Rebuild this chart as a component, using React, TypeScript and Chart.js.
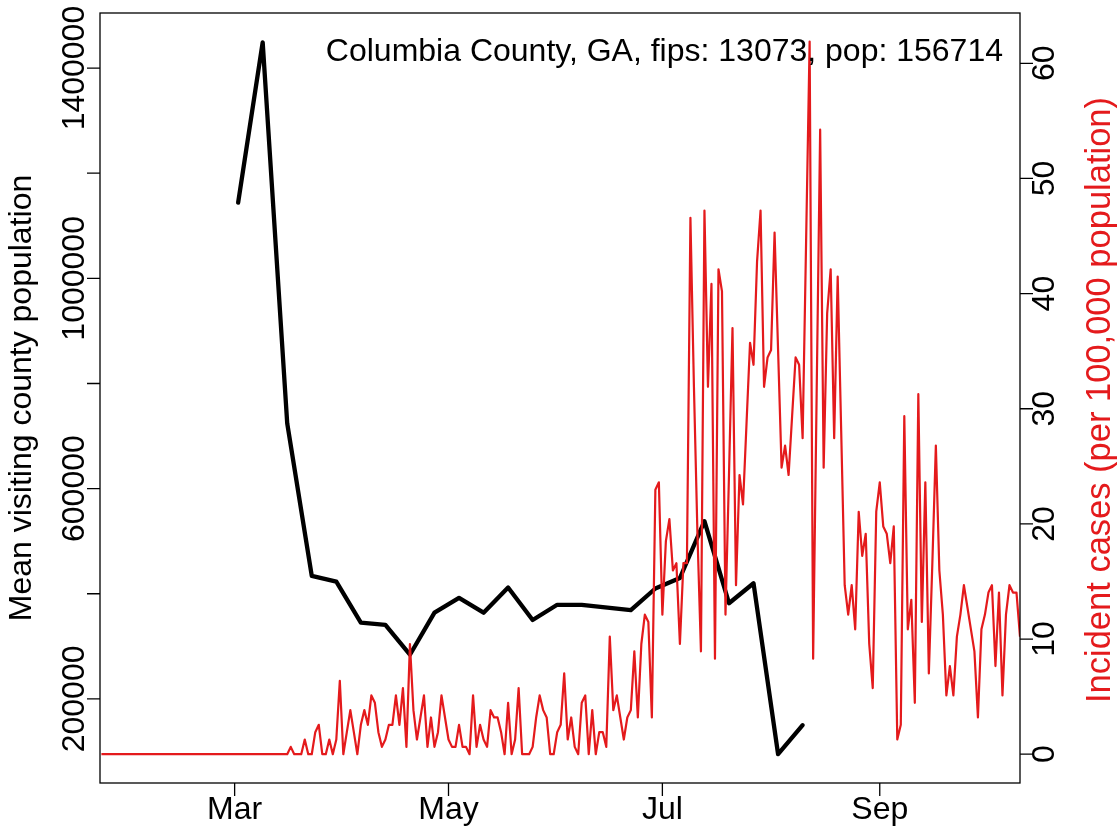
import React, { useEffect, useRef } from 'react';
import { Chart, registerables } from 'chart.js';

Chart.register(...registerables);

// ---- data ----
const POPULATION = 156714;
const FIRST_DAY = 22; // day index of the first daily value (Jan 1 = 0) -> Jan 22
// daily incident cases (raw counts), one per day from Jan 22
const dailyCases = [
  0, 0, 0, 0, 0, 0, 0, 0, 0, 0,
  0, 0, 0, 0, 0, 0, 0, 0, 0, 0,
  0, 0, 0, 0, 0, 0, 0, 0, 0, 0,
  0, 0, 0, 0, 0, 0, 0, 0, 0, 0,
  0, 0, 0, 0, 0, 0, 0, 0, 0, 0,
  0, 0, 0, 0,
  1, 0, 0, 0, 2, 0, 0, 3, 4, 0,
  0, 2, 0, 2, 10, 0, 3, 6, 3, 0,
  4, 6, 4, 8, 7, 3, 1, 2, 4, 4,
  8, 4, 9, 1, 15, 6, 2, 5, 8, 1,
  5, 1, 3, 8, 5, 2, 1, 1, 4, 1,
  1, 0, 8, 1, 4, 2, 1, 6, 5, 5,
  3, 0, 7, 0, 2, 9, 0, 0, 0, 1,
  5, 8, 6, 5, 0, 0, 3, 4, 11, 2,
  5, 1, 0, 7, 8, 0, 6, 0, 3, 3,
  1, 16, 6, 8, 5, 2, 5, 6, 14, 5,
  15, 19, 18, 5, 36, 37, 19, 29, 32, 25,
  26, 15, 26, 26, 73, 50, 30, 14, 74, 50,
  64, 13, 66, 63, 19, 38, 58, 23, 38, 34,
  45, 56, 53, 67, 74, 50, 54, 55, 71, 55,
  39, 42, 38, 46, 54, 53, 43, 70, 97, 13,
  49, 85, 39, 60, 66, 43, 65, 44, 23, 19,
  23, 17, 33, 27, 30, 15, 9, 33, 37, 31,
  30, 26, 31, 2, 4, 46, 17, 21, 7, 49,
  18, 37, 11, 26, 42, 25, 19, 8, 12, 8,
  16, 19, 23, 20, 17, 14, 5, 17, 19, 22,
  23, 12, 22, 8, 19, 23, 22, 22, 16,
];

// weekly mean visiting county population
const weekDays = [61, 68, 75, 82, 89, 96, 103, 110, 117, 124, 131, 138, 145, 152, 159, 173, 180, 187, 194, 201, 208, 215, 222];
const visitingPop = [
  1144000, 1449000, 724000, 434000, 423000, 345000, 341000, 284000, 364000, 392000,
  364000, 412000, 350000, 379000, 379000, 369000, 410000, 430000, 538000, 382000,
  420000, 95000, 150000,
];

// axes
const monthTickDays = [60, 121, 182, 244];
const monthTickLabels = ['Mar', 'May', 'Jul', 'Sep'];
const leftTickValues = [200000, 400000, 600000, 800000, 1000000, 1200000, 1400000];
const leftTickLabels = ['200000', '', '600000', '', '1000000', '', '1400000'];
const rightTickValues = [0, 10, 20, 30, 40, 50, 60];
const rightTickLabels = ['0', '10', '20', '30', '40', '50', '60'];

const TITLE = 'Columbia County, GA, fips: 13073, pop: 156714';
const LEFT_TITLE = 'Mean visiting county population';
const RIGHT_TITLE = 'Incident cases (per 100,000 population)';

const RED = '#E41A1C';
const FONT = '"Liberation Sans", Arial, Helvetica, sans-serif';
const FS = 32;
const FS_RIGHT_TITLE = 34.5;

const rStyleAxes = {
  id: 'rStyleAxes',
  afterDraw(chart: any) {
    const { ctx, chartArea: a, scales } = chart;
    const sx = scales.x;
    const sl = scales.y;
    const sr = scales.y2;
    const TICK = 13;
    ctx.save();
    ctx.strokeStyle = '#000';
    ctx.lineWidth = 1.3;
    ctx.strokeRect(a.left, a.top, a.right - a.left, a.bottom - a.top);

    ctx.beginPath();
    monthTickDays.forEach((d) => {
      const p = sx.getPixelForValue(d);
      ctx.moveTo(p, a.bottom);
      ctx.lineTo(p, a.bottom + TICK);
    });
    leftTickValues.forEach((v) => {
      const p = sl.getPixelForValue(v);
      ctx.moveTo(a.left, p);
      ctx.lineTo(a.left - TICK, p);
    });
    rightTickValues.forEach((v) => {
      const p = sr.getPixelForValue(v);
      ctx.moveTo(a.right, p);
      ctx.lineTo(a.right + TICK, p);
    });
    ctx.stroke();

    ctx.font = `${FS}px ${FONT}`;
    ctx.fillStyle = '#000';
    ctx.textAlign = 'center';
    ctx.textBaseline = 'middle';
    monthTickDays.forEach((d, i) => {
      ctx.fillText(monthTickLabels[i], sx.getPixelForValue(d), a.bottom + 27);
    });

    const rot = (text: string, x: number, y: number, color: string, size: number) => {
      ctx.save();
      ctx.translate(x, y);
      ctx.rotate(-Math.PI / 2);
      ctx.font = `${size}px ${FONT}`;
      ctx.fillStyle = color;
      ctx.fillText(text, 0, 0);
      ctx.restore();
    };
    leftTickValues.forEach((v, i) => {
      if (leftTickLabels[i]) rot(leftTickLabels[i], a.left - 25, sl.getPixelForValue(v), '#000', FS);
    });
    rightTickValues.forEach((v, i) => {
      rot(rightTickLabels[i], a.right + 25, sr.getPixelForValue(v), '#000', FS);
    });
    rot(LEFT_TITLE, 22, (a.top + a.bottom) / 2, '#000', FS);
    rot(RIGHT_TITLE, 1100, 400, RED, FS_RIGHT_TITLE);

    ctx.font = `${FS}px ${FONT}`;
    ctx.textAlign = 'right';
    ctx.fillStyle = '#000';
    ctx.fillText(TITLE, 1003, 52);
    ctx.restore();
  },
};

export default function App() {
  const ref = useRef<HTMLCanvasElement | null>(null);

  useEffect(() => {
    document.body.style.margin = '0';
    const canvas = ref.current;
    if (!canvas) return;
    const incidence = dailyCases.map((c, i) => ({ x: FIRST_DAY + i, y: (c * 100000) / POPULATION }));
    const visits = weekDays.map((d, i) => ({ x: d, y: visitingPop[i] }));
    const hidden = {
      ticks: { display: false },
      grid: { display: false },
      border: { display: false },
    };
    const chart = new Chart(canvas, {
      type: 'line',
      data: {
        datasets: [
          {
            label: 'Incident cases',
            data: incidence,
            yAxisID: 'y2',
            borderColor: RED,
            borderWidth: 2.2,
            pointRadius: 0,
            tension: 0,
            order: 0,
            clip: 0,
            borderJoinStyle: 'round',
          } as any,
          {
            label: 'Mean visiting county population',
            data: visits,
            yAxisID: 'y',
            borderColor: '#000',
            borderWidth: 4.3,
            pointRadius: 0,
            tension: 0,
            order: 1,
            borderJoinStyle: 'round',
            borderCapStyle: 'round',
          } as any,
        ],
      },
      options: {
        animation: false,
        responsive: false,
        devicePixelRatio: 1,
        events: [],
        layout: { padding: { top: 13, bottom: 0, left: 0, right: 0 } },
        plugins: {
          legend: { display: false },
          tooltip: { enabled: false },
          title: { display: false },
        },
        scales: {
          x: {
            type: 'linear',
            min: 21.6,
            max: 284,
            ...hidden,
            afterFit: (s: any) => {
              s.height = 43;
            },
          },
          y: {
            type: 'linear',
            position: 'left',
            min: 40000,
            max: 1504762,
            ...hidden,
            afterFit: (s: any) => {
              s.width = 100;
            },
          },
          y2: {
            type: 'linear',
            position: 'right',
            min: -2.5,
            max: 64.37,
            ...hidden,
            afterFit: (s: any) => {
              s.width = 99;
            },
          },
        } as any,
      },
      plugins: [rStyleAxes],
    });
    return () => chart.destroy();
  }, []);

  return (
    <div style={{ width: 1119, height: 826, overflow: 'hidden', background: '#fff' }}>
      <canvas ref={ref} width={1119} height={826} style={{ display: 'block' }} />
    </div>
  );
}
